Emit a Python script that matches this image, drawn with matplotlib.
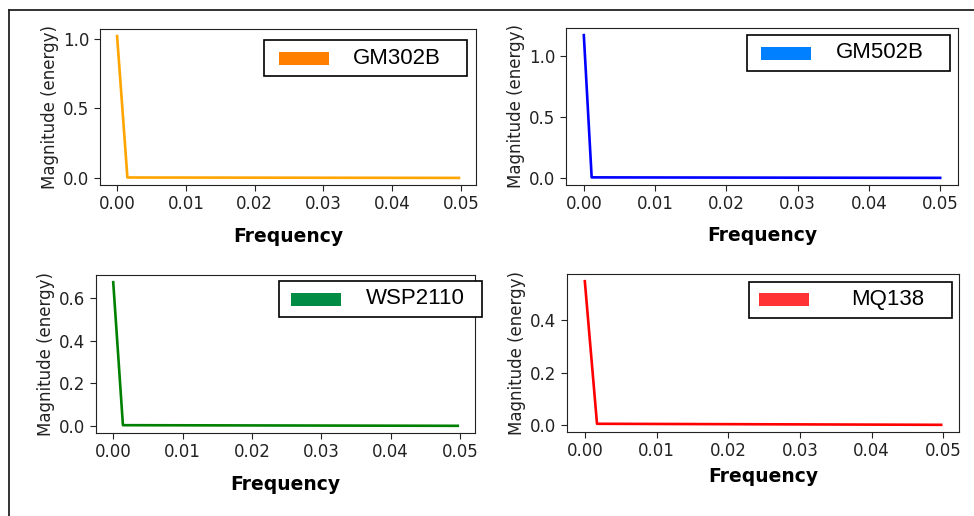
import matplotlib
matplotlib.use('Agg')
import matplotlib.pyplot as plt
from matplotlib.patches import Rectangle
from matplotlib.lines import Line2D

W, H = 974, 516

######### Data #########
sensors = ['GM302B', 'GM502B', 'WSP2110', 'MQ138']
line_colors = ['#FFA500', '#0000FF', '#008000', '#FF0000']
patch_colors = ['#FF8000', '#0080FF', '#008C45', '#FF3333']

freq_gm302b = [0.0, 0.0015, 0.0497]
mag_gm302b = [1.02, 0.003, 0.0]
freq_gm502b = [0.0, 0.0011, 0.0500]
mag_gm502b = [1.17, 0.004, 0.0]
freq_wsp2110 = [0.0, 0.0014, 0.0497]
mag_wsp2110 = [0.675, 0.003, 0.0]
freq_mq138 = [0.0, 0.0017, 0.0497]
mag_mq138 = [0.55, 0.004, 0.0]

freqs = [freq_gm302b, freq_gm502b, freq_wsp2110, freq_mq138]
mags = [mag_gm302b, mag_gm502b, mag_wsp2110, mag_mq138]

# layout in pixels (left, top, right, bottom)
ax_px = [(100, 29, 476, 185), (566, 28, 958, 185),
		 (96, 275, 475, 433), (567, 274, 959, 432)]
leg_px = [(264, 40, 467, 76), (747, 35, 950, 71),
		  (279, 281, 482, 317), (749, 282, 952, 318)]
patch_px = [(279, 52, 329, 65), (761, 47, 811, 60),
			(291, 293, 341, 306), (759, 293, 809, 306)]
text_x = [353, 836, 366, 851]
xlabelpads = [10, 9, 9.5, 5]


def fx(x):
	return x / W


def fy(y):
	return 1 - y / H


fig = plt.figure(figsize=(W / 100, H / 100), dpi=100)

# frame of the original (only top and left edges visible)
fig.add_artist(Line2D([fx(9), 1], [fy(10), fy(10)], color='#222222', lw=1.3))
fig.add_artist(Line2D([fx(9), fx(9)], [fy(10), 0], color='#222222', lw=1.3))

for i in range(4):
	l, t, r, b = ax_px[i]
	ax = fig.add_axes([fx(l), fy(b), (r - l) / W, (b - t) / H])
	ax.plot(freqs[i], mags[i], color=line_colors[i], linewidth=1.9)
	ax.set_xticks([0, 0.01, 0.02, 0.03, 0.04, 0.05])
	ax.tick_params(labelsize=12, colors='#222222', length=4)
	for s in ax.spines.values():
		s.set_color('#222222')
	ax.set_xlabel('Frequency', fontsize=13.5, fontweight='bold',
				  labelpad=xlabelpads[i])
	ax.set_ylabel('Magnitude (energy)', fontsize=12, color='#222222',
				  labelpad=3)

	# custom legend box
	l0, t0, r0, b0 = leg_px[i]
	fig.add_artist(Rectangle((fx(l0), fy(b0)), (r0 - l0) / W, (b0 - t0) / H,
							 transform=fig.transFigure, facecolor='white',
							 edgecolor='black', linewidth=1.2, zorder=5))
	p0, pt, p1, pb = patch_px[i]
	fig.add_artist(Rectangle((fx(p0), fy(pb)), (p1 - p0) / W, (pb - pt) / H,
							 transform=fig.transFigure, facecolor=patch_colors[i],
							 edgecolor='none', zorder=6))
	fig.text(fx(text_x[i]), fy((t0 + b0) / 2), sensors[i],
			 family='Liberation Sans', fontsize=16, va='center', ha='left',
			 zorder=7)

plt.savefig('out.png', dpi=100)
